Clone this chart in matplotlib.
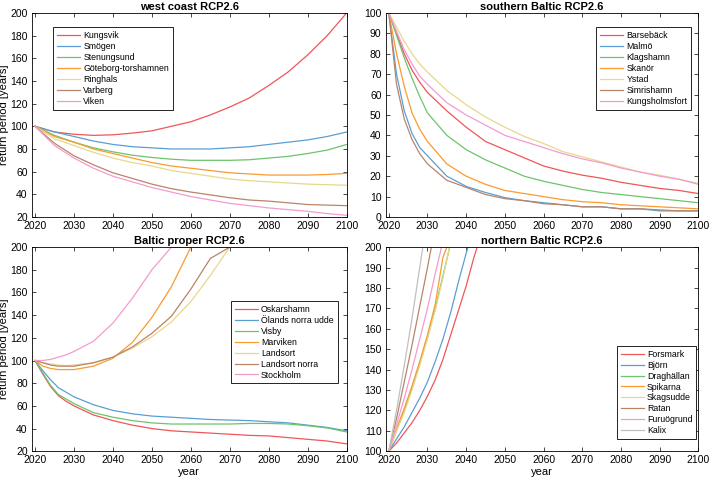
import matplotlib
matplotlib.use("Agg")
import matplotlib.pyplot as plt
import numpy as np

plt.rcParams['font.family'] = ['Liberation Sans', 'DejaVu Sans']

colors = ['#f0555a', '#5a9fd4', '#6cc46c', '#fa9a30', '#e8d88a', '#b98468', '#f59ad0', '#c0c0c0']

# west coast
years_w = [2020, 2025, 2030, 2035, 2040, 2045, 2050, 2055, 2060, 2065, 2070, 2075, 2080, 2085, 2090, 2095, 2100]
west_names = ['Kungsvik', 'Smögen', 'Stenungsund', 'Göteborg-torshamnen', 'Ringhals', 'Varberg', 'Viken']
kungsvik = [100, 95, 93, 92, 92.5, 94, 96, 100, 104, 110, 117, 125, 136, 148, 163, 180, 200]
smogen = [100, 95, 91, 87, 84, 82, 81, 80, 80, 80, 81, 82, 84, 86, 88, 91, 95]
stenungsund = [100, 92, 86, 81, 77.5, 74.5, 72.5, 71, 70, 70, 70, 70.5, 72, 73.5, 76, 79, 84]
goteborg = [100, 91, 86, 80, 76, 72, 68, 65, 63, 61, 59, 58, 57, 57, 57, 57.5, 58.5]
ringhals = [100, 89, 83, 77, 72, 68, 65, 61, 58.5, 56, 53.5, 52, 51, 50, 49, 48.5, 48]
varberg = [100, 85, 74, 66, 59, 54, 49, 45, 42, 39.5, 37, 35, 34, 32.5, 31, 30.5, 30]
viken = [100, 83, 72, 63, 56, 51, 46, 42, 38, 35, 32, 30, 28, 26.5, 25, 23, 21.5]

# southern Baltic
years_s = [2020, 2022, 2024, 2026, 2028, 2030, 2035, 2040, 2045, 2050, 2055, 2060, 2065, 2070, 2075, 2080, 2085, 2090, 2095, 2100]
south_names = ['Barsebäck', 'Malmö', 'Klagshamn', 'Skanör', 'Ystad', 'Simrishamn', 'Kungsholmsfort']
barseback = [100, 90, 80, 72, 66, 61, 52, 44, 37, 33, 29, 25, 22.5, 20.5, 19, 17, 15.5, 14, 13, 11.5]
malmo = [100, 70, 52, 41, 34, 30, 20, 15, 12, 9.5, 8, 7, 6, 5, 5, 4, 4, 3, 3, 3]
klagshamn = [100, 89, 78, 68, 59, 51, 40, 33, 28, 24, 20, 17.5, 15.5, 13.5, 12, 11, 10, 9, 8, 7]
skanor = [100, 80, 64, 51, 43, 37, 26, 20, 16, 13, 11.5, 10, 8.5, 7.5, 7, 6, 5.5, 5, 4.5, 4]
ystad = [100, 93, 86, 80, 75, 71, 62, 55, 49, 44, 39.5, 36, 32, 29.5, 27, 24.5, 22, 20.5, 18.5, 16.5]
simrishamn = [100, 65, 48, 38, 31, 26, 18, 14.5, 11, 9, 8, 6.5, 6, 5, 5, 4, 4, 3.5, 3, 3]
kungsholmsfort = [100, 91, 82, 75, 69, 65, 56, 50, 45, 40, 37, 34, 31, 28.5, 26.5, 24, 22, 20, 18.5, 16]

# Baltic proper (values capped at 200)
years_p = years_s
proper_names = ['Oskarshamn', 'Ölands norra udde', 'Visby', 'Marviken', 'Landsort', 'Landsort norra', 'Stockholm']
oskarshamn = [100, 88, 77, 69, 64, 60, 52, 47, 43, 40, 38, 37, 36, 35, 34, 33.5, 32, 30.5, 29, 26.5]
olands = [100, 91, 83, 76, 72, 68, 61, 56, 53, 51, 50, 49, 48, 47.5, 47, 46, 45, 43, 41, 38]
visby = [100, 89, 78, 70, 66, 62, 54, 50, 47, 45, 44, 44, 44, 44, 44.5, 44.5, 44, 42.5, 40.5, 37]
marviken = [100, 95, 93, 92, 92, 92, 95, 102, 116, 138, 165, 200, 200, 200, 200, 200, 200, 200, 200, 200]
landsort = [100, 98, 97, 96, 95.5, 96, 98, 103, 111, 121, 134, 152, 175, 200, 200, 200, 200, 200, 200, 200]
landsort_norra = [100, 98, 96, 95, 95, 95, 98, 103, 112, 124, 139, 163, 190, 200, 200, 200, 200, 200, 200, 200]
stockholm = [100, 100, 101, 103, 105, 108, 117, 133, 155, 180, 200, 200, 200, 200, 200, 200, 200, 200, 200, 200]

# northern Baltic
years_n = [2020, 2022, 2024, 2026, 2028, 2030, 2032, 2034, 2036, 2038, 2040, 2042, 2044]
north_names = ['Forsmark', 'Björn', 'Draghällan', 'Spikarna', 'Skagsudde', 'Ratan', 'Furuögrund', 'Kalix']
forsmark = [100, 104, 109, 114, 120, 127, 135, 145, 157, 169, 181, 195, 207]
bjorn = [100, 106, 112, 119, 126, 134, 144, 155, 168, 183, 197, 210, 220]
draghallan = [100, 110, 120, 131, 143, 156, 170, 186, 202, 220, 240, 260, 280]
spikarna = [100, 111, 121, 132, 144, 157, 172, 195, 205, 220, 240, 260, 280]
skagsudde = [100, 110, 119, 130, 142, 155, 169, 185, 203, 220, 240, 260, 280]
ratan = [100, 116, 134, 152, 171, 190, 210, 230, 250, 270, 290, 310, 330]
furuogrund = [100, 113, 126, 140, 155, 170, 187, 203, 220, 240, 260, 280, 300]
kalix = [100, 120, 142, 165, 190, 215, 240, 265, 290, 315, 340, 365, 390]

panels = [
    ('west coast RCP2.6', years_w, west_names,
     [kungsvik, smogen, stenungsund, goteborg, ringhals, varberg, viken], (20, 200), 20),
    ('southern Baltic RCP2.6', years_s, south_names,
     [barseback, malmo, klagshamn, skanor, ystad, simrishamn, kungsholmsfort], (0, 100), 10),
    ('Baltic proper RCP2.6', years_p, proper_names,
     [oskarshamn, olands, visby, marviken, landsort, landsort_norra, stockholm], (20, 200), 20),
    ('northern Baltic RCP2.6', years_n, north_names,
     [forsmark, bjorn, draghallan, spikarna, skagsudde, ratan, furuogrund, kalix], (100, 200), 10),
]

# legend placement per panel (loc, anchor in axes fraction)
legend_pos = [('upper left', (0.067, 0.93)), ('upper right', (0.978, 0.93)),
              ('center right', (0.971, 0.534)), ('lower right', (0.994, 0.059))]

fig = plt.figure(figsize=(7.09, 4.78), dpi=100)
rects = [[0.045, 0.546, 0.444, 0.427], [0.544, 0.546, 0.441, 0.427],
         [0.045, 0.056, 0.444, 0.427], [0.544, 0.056, 0.441, 0.427]]

for i, (title, yrs, names, series, ylim, ystep) in enumerate(panels):
    ax = fig.add_axes(rects[i])
    for j, (name, vals) in enumerate(zip(names, series)):
        ax.plot(yrs, vals, color=colors[j], lw=0.9, label=name)
    ax.set_xlim(2019.2, 2100)
    ax.set_ylim(*ylim)
    ax.set_xticks(np.arange(2020, 2101, 10))
    ax.set_yticks(np.arange(ylim[0], ylim[1] + 1, ystep))
    ax.tick_params(direction='in', top=True, right=True, labelsize=7.5, length=3, width=0.5, pad=3)
    for s in ax.spines.values():
        s.set_linewidth(0.6)
    ax.set_title(title, fontsize=8, fontweight='bold', pad=2)
    if i in (0, 2):
        ax.set_ylabel('return period [years]', fontsize=8, labelpad=1)
    if i in (2, 3):
        ax.set_xlabel('year', fontsize=8, labelpad=1)
    loc, anchor = legend_pos[i]
    leg = ax.legend(loc=loc, bbox_to_anchor=anchor, borderaxespad=0, fontsize=6.3,
                    labelspacing=0.22, handlelength=2.6, handletextpad=0.4,
                    borderpad=0.45, fancybox=False, edgecolor='black', framealpha=1)
    leg.get_frame().set_linewidth(0.6)

fig.savefig('out.png', dpi=100)
